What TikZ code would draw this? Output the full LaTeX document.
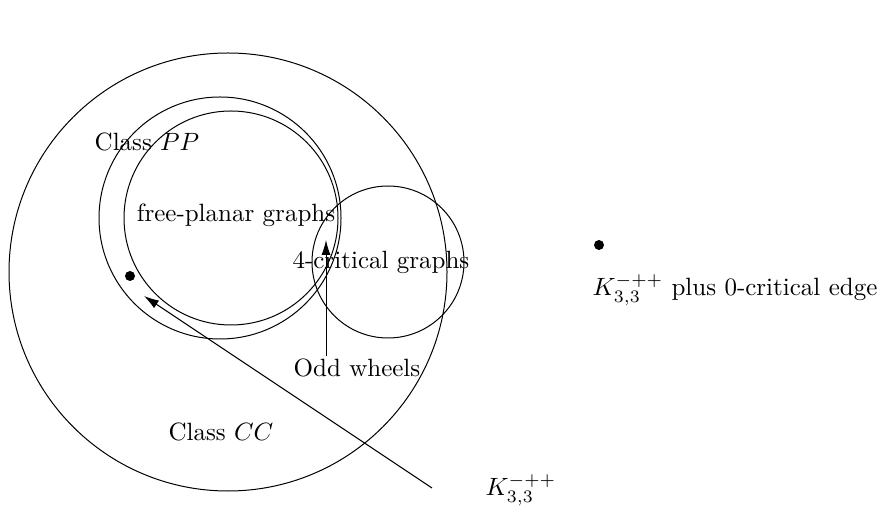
\documentclass[tikz,border=0pt]{standalone}
\usepackage{amsmath}
\usepackage{tikz}
\usetikzlibrary{arrows.meta}

\begin{document}
\begin{tikzpicture}[x=0.4pt,y=-0.4pt,
    lbl/.style={inner sep=1pt},
    pt/.style={circle,fill,inner sep=0pt,minimum size=4pt},
    arr/.style={-{Latex[length=6pt,width=3.6pt]}}]
  \useasboundingbox (0,0) rectangle (877,524);
  % circles
  \draw (228,272) circle (219);
  \draw (220,218) circle (121);
  \draw (231,218) circle (107);
  \draw (388,262) circle (76);
  % labels
  \node[lbl] (pp) at (147,142) {Class $PP$};
  \node[lbl] (fp) at (236,215) {free-planar graphs};
  \node[lbl] (fc) at (381,262) {4-critical graphs};
  \node[lbl] (odd) at (357,368) {Odd wheels};
  \node[lbl] (cc) at (221,432) {Class $CC$};
  \node[lbl] (k) at (521,490) {$K_{3,3}^{-++}$};
  \node[lbl] (kp) at (735,290) {$K_{3,3}^{-++}$ plus 0-critical edge};
  % points
  \node[pt] (d1) at (130,276) {};
  \node[pt] (d2) at (599,245) {};
  % arrows
  \coordinate (owtip) at (326,240);
  \coordinate (ktail) at (432,488);
  \coordinate (ktip) at (144,296);
  \draw[arr] (odd.north -| owtip) -- (owtip);
  \draw[arr] (ktail) -- (ktip);
\end{tikzpicture}
\end{document}
